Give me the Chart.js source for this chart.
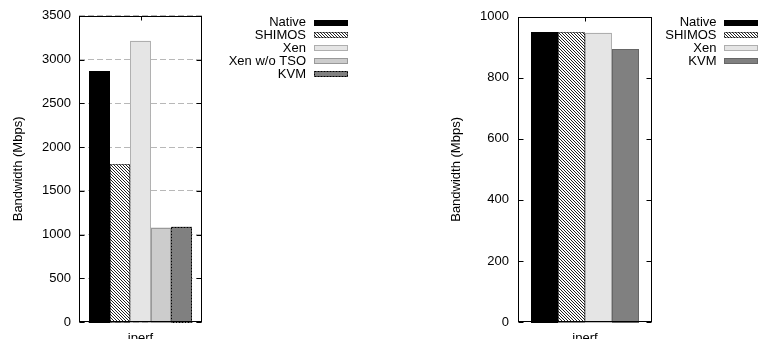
<!DOCTYPE html>
<html>
<head>
<meta charset="utf-8">
<script src="https://cdn.jsdelivr.net/npm/chart.js@4/dist/chart.umd.min.js"></script>
<style>
  body { margin: 0; background: #fff; }
  .box { position: absolute; top: 0; width: 379px; height: 339px; }
  #leftBox { left: 0; }
  #rightBox { left: 379px; }
</style>
</head>
<body>
<div class="box" id="leftBox"><canvas id="leftChart"></canvas></div>
<div class="box" id="rightBox"><canvas id="rightChart"></canvas></div>
<script>
// donnees
const categories = ['iperf'];
const seriesLeft = ['Native', 'SHIMOS', 'Xen', 'Xen w/o TSO', 'KVM'];
const valuesLeft = [2865, 1802, 3214, 1079, 1090];
const seriesRight = ['Native', 'SHIMOS', 'Xen', 'KVM'];
const valuesRight = [949, 949, 948, 893];
const yTicksLeft = [0, 500, 1000, 1500, 2000, 2500, 3000, 3500];
const yTicksRight = [0, 200, 400, 600, 800, 1000];
const yTitle = 'Bandwidth (Mbps)';

Chart.defaults.font.family = '"Liberation Sans", Arial, sans-serif';
Chart.defaults.font.size = 13;
Chart.defaults.color = '#000';

// motif hachure pour SHIMOS
function hatch() {
    const c = document.createElement('canvas');
    c.width = 3; c.height = 3;
    const g = c.getContext('2d');
    g.fillStyle = '#fff';
    g.fillRect(0, 0, 3, 3);
    g.fillStyle = '#222';
    for (let i = 0; i < 3; i++) g.fillRect(i, i, 1, 1);
    return g.createPattern(c, 'repeat');
}

const styleLeft = [
    { fill: '#000000', edge: '#000000', dash: [] },
    { fill: hatch(), edge: '#000000', dash: [1, 1] },
    { fill: '#e5e5e5', edge: '#777777', dash: [1, 1] },
    { fill: '#cccccc', edge: '#999999', dash: [] },
    { fill: '#808080', edge: '#000000', dash: [2, 1] }
];
const styleRight = [
    { fill: '#000000', edge: '#000000', dash: [] },
    { fill: hatch(), edge: '#000000', dash: [1, 1] },
    { fill: '#e5e5e5', edge: '#777777', dash: [1, 1] },
    { fill: '#808080', edge: '#666666', dash: [] }
];

// cadre gnuplot, graduations interieures, bords des barres et legende
const gnuplotLook = {
    id: 'gnuplotLook',
    afterDatasetsDraw(chart, args, opts) {
        const ctx = chart.ctx;
        const a = chart.chartArea;
        const x = chart.scales.x, y = chart.scales.y;
        ctx.save();
        ctx.lineWidth = 1;
        chart.data.datasets.forEach((ds, i) => {
            chart.getDatasetMeta(i).data.forEach(bar => {
                const p = bar.getProps(['x', 'y', 'base', 'width'], true);
                const l = Math.round(p.x - p.width / 2), r = Math.round(p.x + p.width / 2);
                const t = Math.round(p.y), b = Math.round(p.base);
                ctx.strokeStyle = ds.edgeColor;
                ctx.setLineDash(ds.edgeDash);
                ctx.strokeRect(l + 0.5, t + 0.5, r - l - 1, b - t);
            });
        });
        ctx.setLineDash([]);
        ctx.strokeStyle = '#000';
        const L = Math.round(a.left) + 0.5, R = Math.round(a.right) - 0.5;
        const T = Math.round(a.top) + 0.5, B = Math.round(a.bottom) - 0.5;
        ctx.strokeRect(L, T, R - L, B - T);
        ctx.beginPath();
        y.ticks.forEach(tk => {
            const py = Math.round(y.getPixelForValue(tk.value)) + 0.5;
            ctx.moveTo(L, py); ctx.lineTo(L + 5, py);
            ctx.moveTo(R, py); ctx.lineTo(R - 5, py);
        });
        const px = Math.round(x.getPixelForValue(0)) + 0.5;
        ctx.moveTo(px, T); ctx.lineTo(px, T + 4);
        ctx.stroke();
        ctx.restore();
    },
    afterDraw(chart, args, opts) {
        const ctx = chart.ctx;
        ctx.save();
        ctx.font = '13px "Liberation Sans", Arial, sans-serif';
        ctx.textAlign = 'right';
        ctx.textBaseline = 'middle';
        ctx.lineWidth = 1;
        chart.data.datasets.forEach((ds, i) => {
            const cy = opts.top + i * opts.step;
            ctx.fillStyle = '#000';
            ctx.fillText(ds.label, opts.textRight, cy);
            const sx = opts.swatchLeft, sy = Math.round(cy - 3);
            ctx.fillStyle = ds.backgroundColor;
            ctx.fillRect(sx, sy, 34, 6);
            ctx.strokeStyle = ds.edgeColor;
            ctx.setLineDash(ds.edgeDash);
            ctx.strokeRect(sx + 0.5, sy + 0.5, 33, 5);
            ctx.setLineDash([]);
        });
        ctx.restore();
    }
};

function makeChart(id, names, values, styles, ticks, frame) {
    const datasets = names.map((n, i) => ({
        label: n,
        data: [values[i]],
        backgroundColor: styles[i].fill,
        borderWidth: 0,
        edgeColor: styles[i].edge,
        edgeDash: styles[i].dash
    }));
    return new Chart(document.getElementById(id), {
        type: 'bar',
        data: { labels: categories, datasets: datasets },
        plugins: [gnuplotLook],
        options: {
            responsive: true,
            maintainAspectRatio: false,
            animation: false,
            datasets: { bar: { categoryPercentage: frame.catPct, barPercentage: 1 } },
            layout: { padding: { left: 0, right: frame.padRight, top: 15, bottom: 0 } },
            plugins: {
                legend: { display: false },
                tooltip: { enabled: false },
                gnuplotLook: frame.legend
            },
            scales: {
                x: {
                    grid: { display: false },
                    border: { display: false },
                    ticks: { padding: 1 },
                    afterFit: s => { s.height = 17; }
                },
                y: {
                    min: ticks[0],
                    max: ticks[ticks.length - 1],
                    afterBuildTicks: s => { s.ticks = ticks.map(v => ({ value: v })); },
                    grid: {
                        display: frame.grid,
                        drawTicks: false,
                        color: '#b8b8b8'
                    },
                    border: { display: false, dash: [6, 3] },
                    ticks: { padding: frame.tickPad, callback: v => String(v) },
                    title: {
                        display: true,
                        text: yTitle,
                        padding: { top: frame.titlePad, bottom: 0 }
                    },
                    afterFit: s => { s.width = frame.axisWidth; }
                }
            }
        }
    });
}

makeChart('leftChart', seriesLeft, valuesLeft, styleLeft, yTicksLeft, {
    catPct: 0.837, padRight: 177, axisWidth: 79, tickPad: 8, titlePad: 10.2, grid: true,
    legend: { textRight: 306, swatchLeft: 314, top: 22.5, step: 12.9 }
});
makeChart('rightChart', seriesRight, valuesRight, styleRight, yTicksRight, {
    catPct: 0.80, padRight: 106, axisWidth: 139, tickPad: 9, titlePad: 69.9, grid: false,
    legend: { textRight: 337.5, swatchLeft: 345, top: 22.5, step: 12.9 }
});
</script>
</body>
</html>
